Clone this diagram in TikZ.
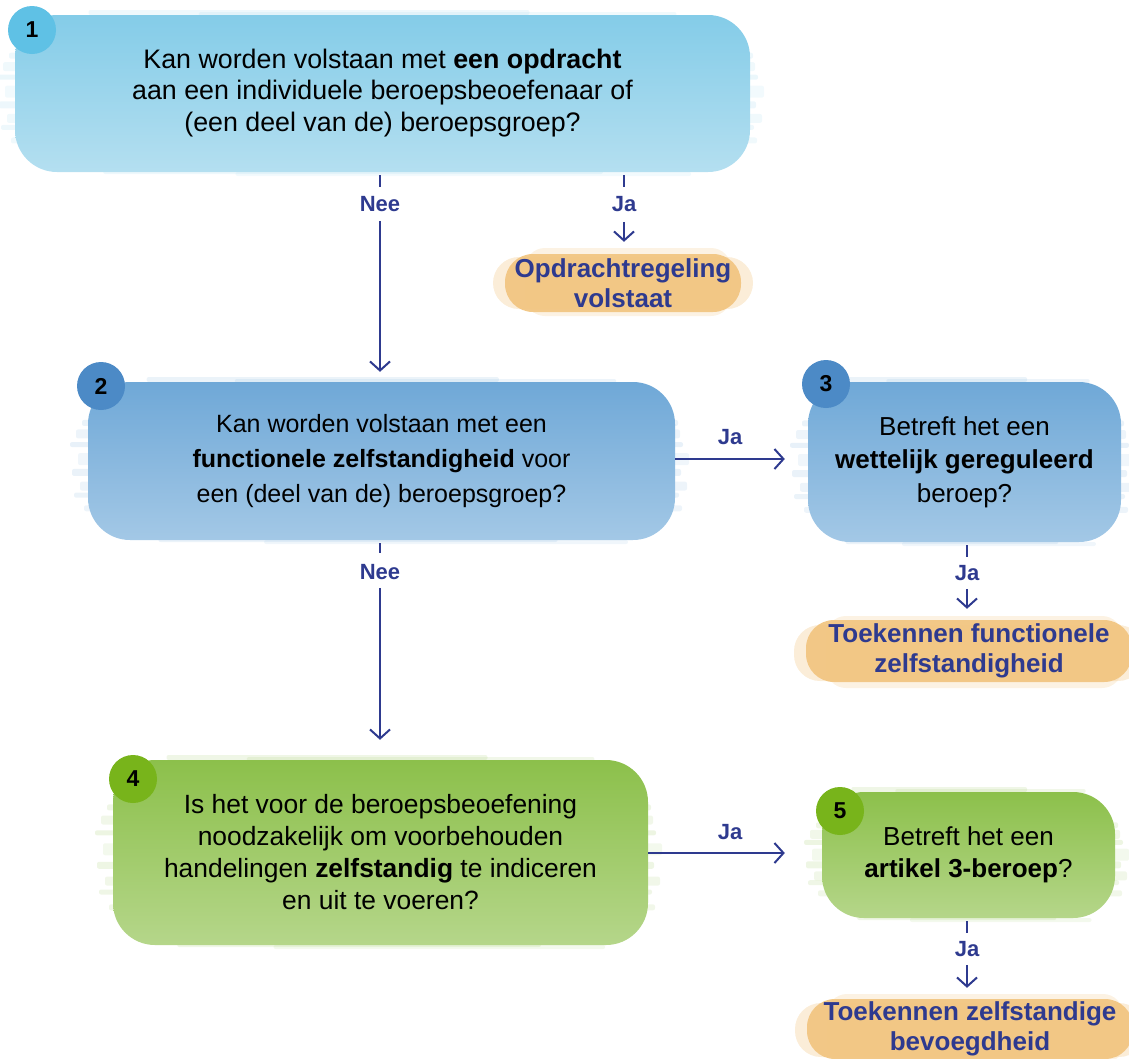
\documentclass[tikz,border=0pt]{standalone}
\usepackage{fontspec}
\setmainfont{Liberation Sans}
\usetikzlibrary{arrows.meta}
\definecolor{navy}{HTML}{2E3A8F}
\definecolor{blueA}{HTML}{84CCE8}
\definecolor{blueAl}{HTML}{B4DFF0}
\definecolor{blueAb}{HTML}{5FC1E5}
\definecolor{blueB}{HTML}{6FA8D7}
\definecolor{blueBl}{HTML}{A3C8E6}
\definecolor{blueBb}{HTML}{4C8AC6}
\definecolor{greenA}{HTML}{8CC04B}
\definecolor{greenAl}{HTML}{B5D68A}
\definecolor{greenAb}{HTML}{78B41B}
\definecolor{orangeA}{HTML}{F1C47F}
\tikzset{
  qbox/.style={rounded corners=42pt, inner sep=0pt, align=center,
    font=\fontsize{26.8}{32}\selectfont, text=black},
  badge/.style={circle, inner sep=0pt, minimum size=48pt,
    font=\fontsize{23}{23}\selectfont\bfseries, text=black},
  lbl/.style={inner sep=0pt, font=\fontsize{22}{22}\selectfont\bfseries, text=navy},
  result/.style={rounded corners=28pt, inner sep=0pt, align=center, fill=orangeA,
    fill opacity=0.92, text opacity=1,
    font=\fontsize{26}{30}\selectfont\bfseries, text=navy},
  conn/.style={draw=navy, line width=2pt},
  arr/.style={conn, -{Straight Barb[length=9pt,width=20pt,line width=2pt]}},
}
% brush streaks round a box: x1 y1 x2 y2 colour
\newcommand\brushstreaks[5]{%
  \foreach \f/\dl/\dr/\h/\o in {0.24/6/3/6/0.14, 0.3/12/5/9/0.12, 0.38/18/8/5/0.16,
      0.45/10/14/12/0.1, 0.55/16/6/7/0.15, 0.63/8/12/9/0.12, 0.7/14/4/5/0.14, 0.78/4/7/6/0.12}{
    \fill[#5, opacity=\o, rounded corners=2pt]
      ({#1-\dl},{#2+\f*(#4-#2)}) rectangle ({#3+\dr},{#2+\f*(#4-#2)+\h});
  }
  \foreach \a/\b/\d/\h/\o in {0.1/0.7/-5/5/0.14, 0.25/0.9/-3/4/0.12, 0.12/0.8/2/5/0.14, 0.3/0.92/4/4/0.1}{
    \fill[#5, opacity=\o, rounded corners=2pt]
      ({#1+\a*(#3-#1)},{(\d<0 ? #2 : #4)+\d}) rectangle ({#1+\b*(#3-#1)},{(\d<0 ? #2 : #4)+\d+(\d<0 ? \h : -\h)});
  }
}
% soft halo round an orange result: cx cy w h
\newcommand\orangehalo[4]{%
  \fill[orangeA, opacity=0.3, rounded corners=26pt]
    ({#1-#3/2-12},{#2-#4/2+4}) rectangle ({#1+#3/2+12},{#2+#4/2-2});
  \fill[orangeA, opacity=0.22, rounded corners=20pt]
    ({#1-#3/2+20},{#2-#4/2-5}) rectangle ({#1+#3/2-10},{#2+#4/2+5});
}
\begin{document}
\begin{tikzpicture}[x=1pt,y=-1pt]
\useasboundingbox (0,0) rectangle (1129,1058);

% ---- brush texture behind boxes
\brushstreaks{15}{15}{750}{172}{blueA}
\brushstreaks{88}{382}{675}{540}{blueB}
\brushstreaks{808}{382}{1121}{542}{blueB}
\brushstreaks{113}{760}{648}{945}{greenA}
\brushstreaks{822}{792}{1115}{918}{greenA}
\orangehalo{623}{282}{236}{58}
\orangehalo{969}{652}{326}{62}
\orangehalo{970}{1029}{326}{60}

% ---- question boxes
\node[qbox, minimum width=735pt, minimum height=157pt, top color=blueA, bottom color=blueAl]
  (b1) at (382.5,93.5) {\raisebox{5pt}{\begin{tabular}{@{}c@{}}Kan worden volstaan met \textbf{een opdracht}\\[-0.5pt]
  aan een individuele beroepsbeoefenaar of\\[-0.5pt] (een deel van de) beroepsgroep?\end{tabular}}};
\node[qbox, minimum width=587pt, minimum height=158pt, top color=blueB, bottom color=blueBl,
  font=\fontsize{25}{35}\selectfont]
  (b2) at (381.5,461) {Kan worden volstaan met een\\ \textbf{functionele zelfstandigheid} voor\\ een (deel van de) beroepsgroep?};
\node[qbox, minimum width=313pt, minimum height=160pt, top color=blueB, bottom color=blueBl,
  font=\fontsize{26}{33.5}\selectfont]
  (b3) at (964.5,462) {Betreft het een\\ \textbf{wettelijk gereguleerd}\\ beroep?};
\node[qbox, minimum width=535pt, minimum height=185pt, top color=greenA, bottom color=greenAl,
  font=\fontsize{26.4}{32}\selectfont]
  (b4) at (380.5,852.5) {Is het voor de beroepsbeoefening\\ noodzakelijk om voorbehouden\\ handelingen \textbf{zelfstandig} te indiceren\\ en uit te voeren?};
\node[qbox, minimum width=293pt, minimum height=126pt, top color=greenA, bottom color=greenAl,
  font=\fontsize{26}{32}\selectfont]
  (b5) at (968.5,855) {Betreft het een\\ \textbf{artikel 3-beroep}?};

% ---- badges
\node[badge, fill=blueAb] (k1) at (32,30) {1};
\node[badge, fill=blueBb] (k2) at (101,386) {2};
\node[badge, fill=blueBb] (k3) at (826,384) {3};
\node[badge, fill=greenAb] (k4) at (133,779) {4};
\node[badge, fill=greenAb] (k5) at (840,811) {5};

% ---- results
\node[result, minimum width=236pt, minimum height=58pt] (r1) at (623,283)
  {Opdrachtregeling\\ volstaat};
\node[result, minimum width=326pt, minimum height=62pt] (r2) at (969,651)
  {Toekennen functionele\\ zelfstandigheid};
\node[result, minimum width=326pt, minimum height=60pt] (r3) at (970,1029)
  {Toekennen zelfstandige\\ bevoegdheid};

% ---- connector labels
\node[lbl] (n1) at (380,204) {Nee};
\node[lbl] (j1) at (624,204) {Ja};
\node[lbl] (j2) at (730,437) {Ja};
\node[lbl] (j3) at (967,573) {Ja};
\node[lbl] (n2) at (380,572) {Nee};
\node[lbl] (j4) at (730,832) {Ja};
\node[lbl] (j5) at (967,949) {Ja};

% ---- connectors
\draw[conn] ([yshift=-3pt]b1.south -| n1) -- ([yshift=-15pt]b1.south -| n1);
\draw[arr] ([yshift=-9pt]n1.south) -- ([yshift=10pt]b2.north -| n1);
\draw[conn] ([yshift=-3pt]b1.south -| j1) -- ([yshift=-15pt]b1.south -| j1);
\draw[arr] ([yshift=-10pt]j1.south) -- ([yshift=12pt]r1.north -| j1);

\draw[arr] (b2.east |- 0,459) -- ([xshift=-23pt]b3.west |- 0,459);

\draw[conn] ([yshift=-3pt]b3.south -| j3) -- ([yshift=-15pt]b3.south -| j3);
\draw[arr] ([yshift=-8pt]j3.south) -- ([yshift=11pt]r2.north -| j3);

\draw[conn] ([yshift=-3pt]b2.south -| n2) -- ([yshift=-13pt]b2.south -| n2);
\draw[arr] ([yshift=-8pt]n2.south) -- ([yshift=20pt]b4.north -| n2);

\draw[arr] (b4.east |- 0,853) -- ([xshift=-37pt]b5.west |- 0,853);

\draw[conn] ([yshift=-3pt]b5.south -| j5) -- ([yshift=-15pt]b5.south -| j5);
\draw[arr] ([yshift=-8pt]j5.south) -- ([yshift=11pt]r3.north -| j5);
\end{tikzpicture}
\end{document}
